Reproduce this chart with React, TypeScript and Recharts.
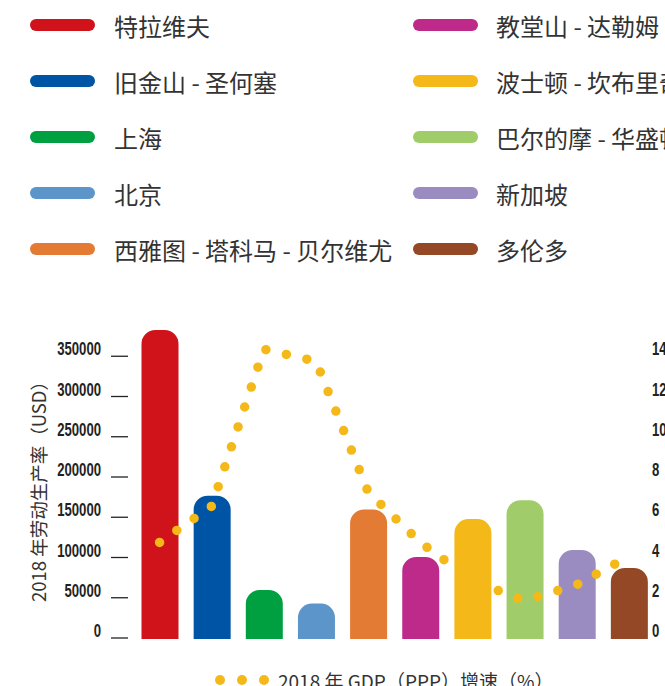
import React from "react";
import { ComposedChart, Bar, Line, XAxis, YAxis, Cell } from "recharts";

const cities = [
  "特拉维夫",
  "旧金山 - 圣何塞",
  "上海",
  "北京",
  "西雅图 - 塔科马 - 贝尔维尤",
  "教堂山 - 达勒姆",
  "波士顿 - 坎布里奇",
  "巴尔的摩 - 华盛顿",
  "新加坡",
  "多伦多",
];
const colors = [
  "#d0121b",
  "#0054a6",
  "#00a040",
  "#5b95c9",
  "#e47b35",
  "#be2a8a",
  "#f5b819",
  "#a0cc6a",
  "#9a8bc1",
  "#944826",
];
// 2018 labour productivity (USD)
const productivity = [384000, 178000, 61000, 44000, 161000, 102000, 149000, 172500, 110700, 88300];
// 2018 GDP (PPP) growth (%)
const growth = [4.8, 6.6, 14.4, 13.8, 7.3, 4.8, 2.9, 1.9, 2.7, 4.1];

const leftTicks = [0, 50000, 100000, 150000, 200000, 250000, 300000, 350000];
const rightTicks = [0, 2, 4, 6, 8, 10, 12, 14];

const data = cities.map((c, i) => ({
  city: c,
  productivity: productivity[i],
  growth: growth[i],
}));

const TEXT = "#333";
const CJK = "'Noto Sans CJK SC', 'Noto Sans', sans-serif";
const NUM = "'Liberation Sans', Arial, sans-serif";
const DIGIT_W = 7.3; // condensed digit width

const LeftTick = (props: any) => {
  const { y, payload } = props;
  const s = String(payload.value);
  return (
    <g>
      <text
        x={101}
        y={y - 8}
        textAnchor="end"
        dominantBaseline="central"
        fontFamily={NUM}
        fontWeight="bold"
        fontSize={17.5}
        fill="#222"
        textLength={s.length * DIGIT_W}
        lengthAdjust="spacingAndGlyphs"
      >
        {s}
      </text>
      <line x1={111} x2={128} y1={y - 1} y2={y - 1} stroke="#222" strokeWidth={1.3} />
    </g>
  );
};

const RightTick = (props: any) => {
  const { y, payload } = props;
  const s = String(payload.value);
  return (
    <text
      x={652}
      y={y - 8}
      textAnchor="start"
      dominantBaseline="central"
      fontFamily={NUM}
      fontWeight="bold"
      fontSize={17.5}
      fill="#222"
      textLength={s.length * DIGIT_W}
      lengthAdjust="spacingAndGlyphs"
    >
      {s}
    </text>
  );
};

const AxisTitle = () => (
  <text
    x={38}
    y={487}
    transform="rotate(-90, 38, 487)"
    textAnchor="middle"
    dominantBaseline="central"
    fontFamily={CJK}
    fontSize={18.5}
    fill={TEXT}
  >
    2018 年劳动生产率（USD）
  </text>
);

function TopLegend() {
  return (
    <>
      {cities.map((c, i) => {
        const col = i < 5 ? 0 : 1;
        const row = i % 5;
        return (
          <div
            key={c}
            style={{
              position: "absolute",
              left: col === 0 ? 30 : 413,
              top: 25 + row * 56 - 16,
              height: 32,
              display: "flex",
              alignItems: "center",
              whiteSpace: "nowrap",
            }}
          >
            <span
              style={{
                display: "inline-block",
                width: 65,
                height: 12,
                borderRadius: 6,
                background: colors[i],
                marginRight: col === 0 ? 19 : 18,
              }}
            />
            <span style={{ fontFamily: CJK, fontSize: 24, color: TEXT }}>{c}</span>
          </div>
        );
      })}
    </>
  );
}

function BottomLegend() {
  return (
    <div
      style={{
        position: "absolute",
        left: 215,
        top: 667,
        height: 26,
        display: "flex",
        alignItems: "center",
        whiteSpace: "nowrap",
      }}
    >
      {[0, 1, 2].map((k) => (
        <span
          key={k}
          style={{
            display: "inline-block",
            width: 10,
            height: 10,
            borderRadius: 5,
            background: colors[6],
            marginRight: 12,
          }}
        />
      ))}
      <span style={{ fontFamily: CJK, fontSize: 19, color: TEXT, marginLeft: -3 }}>
        2018 年 GDP（PPP）增速（%）
      </span>
    </div>
  );
}

export default function App() {
  return (
    <div style={{ position: "relative", width: 665, height: 686, overflow: "hidden", background: "#fff" }}>
      <style>{`body{margin:0}`}</style>
      <TopLegend />
      <div style={{ position: "absolute", left: 0, top: 0 }}>
        <ComposedChart
          width={665}
          height={686}
          data={data}
          margin={{ top: 317, right: 0, bottom: 47, left: 0 }}
          barSize={37}
        >
          <XAxis dataKey="city" hide padding={{ left: 0, right: 0 }} />
          <YAxis
            yAxisId="left"
            orientation="left"
            width={133.5}
            domain={[0, 400000]}
            ticks={leftTicks}
            tick={<LeftTick />}
            tickLine={false}
            axisLine={false}
            interval={0}
            label={<AxisTitle />}
          />
          <YAxis
            yAxisId="right"
            orientation="right"
            width={10}
            domain={[0, 16]}
            ticks={rightTicks}
            tick={<RightTick />}
            tickLine={false}
            axisLine={false}
            interval={0}
          />
          <Bar yAxisId="left" dataKey="productivity" radius={[14, 14, 0, 0]} isAnimationActive={false}>
            {data.map((d, i) => (
              <Cell key={d.city} fill={colors[i]} />
            ))}
          </Bar>
          <Line
            yAxisId="right"
            dataKey="growth"
            type="linear"
            stroke={colors[6]}
            strokeWidth={9.5}
            strokeDasharray="0 21"
            strokeLinecap="round"
            dot={false}
            activeDot={false}
            isAnimationActive={false}
          />
        </ComposedChart>
      </div>
      <BottomLegend />
    </div>
  );
}
